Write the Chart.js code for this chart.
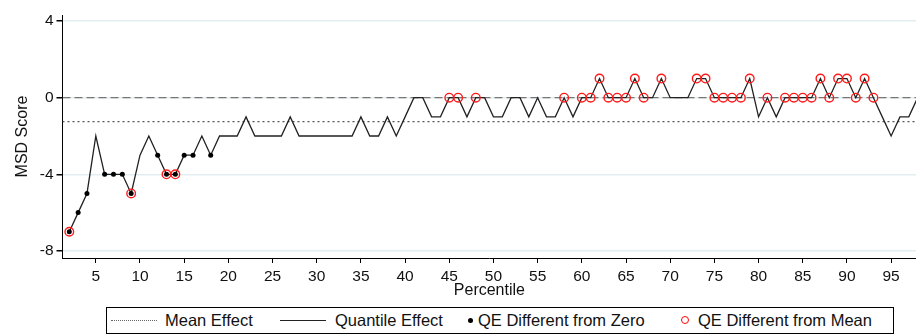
<!DOCTYPE html>
<html>
<head>
<meta charset="utf-8">
<script src="https://cdn.jsdelivr.net/npm/chart.js@4.4.1/dist/chart.umd.min.js"></script>
<style>
    html, body { margin: 0; padding: 0; background: #fff; overflow: hidden; }
    #wrap { position: relative; width: 916px; height: 334px; overflow: hidden; font-family: "Liberation Sans", Arial, sans-serif; }
    /* canvas is a bit wider than the page: chart.js keeps ~6px free on the right, which the reference does not */
    #chartBox { position: absolute; left: 0; top: 0; width: 922px; height: 302px; }
    #legend { position: absolute; left: 106px; top: 307px; width: 786px; height: 25px; border: 1px solid #000; }
    .item { position: absolute; top: 0; height: 25px; line-height: 25px; font-size: 16.5px; color: #111; white-space: nowrap; }
    .sample { position: absolute; }
</style>
</head>
<body>
<div id="wrap">
    <div id="chartBox"><canvas id="qeChart" width="922" height="302"></canvas></div>
    <div id="legend">
        <span class="sample" style="left: 4px; top: 12px; width: 46px; border-top: 1.5px dotted #666;"></span>
        <span class="item" style="left: 58px;">Mean Effect</span>
        <span class="sample" style="left: 173px; top: 12px; width: 46px; border-top: 1.5px solid #222;"></span>
        <span class="item" style="left: 228px;">Quantile Effect</span>
        <span class="sample" style="left: 361px; top: 10px; width: 5px; height: 5px; border-radius: 50%; background: #000;"></span>
        <span class="item" style="left: 371px;">QE Different from Zero</span>
        <span class="sample" style="left: 574px; top: 8px; width: 6px; height: 6px; border-radius: 50%; border: 1.5px solid #f00;"></span>
        <span class="item" style="left: 591px;">QE Different from Mean</span>
    </div>
</div>
<script>
// ==================== Data ====================
const percentiles = [
    2, 3, 4, 5, 6, 7, 8, 9, 10, 11, 12, 13, 14, 15, 16, 17, 18, 19, 20, 21,
    22, 23, 24, 25, 26, 27, 28, 29, 30, 31, 32, 33, 34, 35, 36, 37, 38, 39, 40, 41,
    42, 43, 44, 45, 46, 47, 48, 49, 50, 51, 52, 53, 54, 55, 56, 57, 58, 59, 60, 61,
    62, 63, 64, 65, 66, 67, 68, 69, 70, 71, 72, 73, 74, 75, 76, 77, 78, 79, 80, 81,
    82, 83, 84, 85, 86, 87, 88, 89, 90, 91, 92, 93, 94, 95, 96, 97, 98
];
const quantileEffect = [
    -7, -6, -5, -2, -4, -4, -4, -5, -3, -2, -3, -4, -4, -3, -3, -2, -3, -2, -2, -2,
    -1, -2, -2, -2, -2, -1, -2, -2, -2, -2, -2, -2, -2, -1, -2, -2, -1, -2, -1, 0,
    0, -1, -1, 0, 0, -1, 0, 0, -1, -1, 0, 0, -1, 0, -1, -1, 0, -1, 0, 0,
    1, 0, 0, 0, 1, 0, 0, 1, 0, 0, 0, 1, 1, 0, 0, 0, 0, 1, -1, 0,
    -1, 0, 0, 0, 0, 1, 0, 1, 1, 0, 1, 0, -1, -2, -1, -1, 0
];
// percentiles flagged in the picture
const diffFromZero = [2, 3, 4, 6, 7, 8, 9, 12, 13, 14, 15, 16, 18];
const diffFromMean = [
    2, 9, 13, 14, 45, 46, 48, 58, 60, 61, 62, 63, 64, 65, 66, 67, 69,
    73, 74, 75, 76, 77, 78, 79, 81, 83, 84, 85, 86, 87, 88, 89, 90, 91, 92, 93
];
const meanEffect = -1.25;
const xTicks = [5, 10, 15, 20, 25, 30, 35, 40, 45, 50, 55, 60, 65, 70, 75, 80, 85, 90, 95];
const yTicks = [4, 0, -4, -8];
const xRange = [1.23, 97.85];
const yRange = [-8.37, 4.32];

// ==================== Build ====================
const valueAt = p => quantileEffect[percentiles.indexOf(p)];
const linePoints = percentiles.map((p, i) => ({ x: p, y: quantileEffect[i] }));
const zeroPoints = diffFromZero.map(p => ({ x: p, y: valueAt(p) }));
const meanPoints = diffFromMean.map(p => ({ x: p, y: valueAt(p) }));

const tickFont = { family: '"Liberation Sans", Arial, sans-serif', size: 15.5 };
const titleFont = { family: '"Liberation Sans", Arial, sans-serif', size: 16 };

new Chart(document.getElementById('qeChart'), {
    type: 'line',
    data: {
        datasets: [
            {
                label: 'QE Different from Mean',
                data: meanPoints,
                showLine: false,
                pointRadius: 4.3,
                pointBorderWidth: 1.4,
                pointBorderColor: '#ff1a1a',
                pointBackgroundColor: 'rgba(0,0,0,0)',
                order: 0
            },
            {
                label: 'QE Different from Zero',
                data: zeroPoints,
                showLine: false,
                pointRadius: 2.5,
                pointBorderWidth: 0,
                pointBackgroundColor: '#000',
                order: 1
            },
            {
                label: 'Quantile Effect',
                data: linePoints,
                borderColor: '#222',
                borderWidth: 1.3,
                pointRadius: 0,
                tension: 0,
                order: 2
            },
            {
                label: 'Mean Effect',
                data: [{ x: xRange[0], y: meanEffect }, { x: xRange[1], y: meanEffect }],
                borderColor: '#555',
                borderWidth: 1.2,
                borderDash: [2, 3],
                pointRadius: 0,
                order: 3
            },
            {
                label: 'Zero',
                data: [{ x: xRange[0], y: 0 }, { x: xRange[1], y: 0 }],
                borderColor: '#777',
                borderWidth: 1.2,
                borderDash: [8, 4],
                pointRadius: 0,
                order: 4
            }
        ]
    },
    options: {
        responsive: false,
        animation: false,
        layout: { padding: { left: 0, right: 0, top: 15, bottom: 0 } },
        plugins: { legend: { display: false }, tooltip: { enabled: false } },
        scales: {
            x: {
                type: 'linear',
                min: xRange[0],
                max: xRange[1],
                afterBuildTicks: scale => { scale.ticks = xTicks.map(v => ({ value: v })); },
                afterFit: scale => { scale.height = 44; },
                border: { display: true, color: '#000', width: 1 },
                grid: { drawOnChartArea: false, drawTicks: true, tickLength: 5, tickColor: '#000' },
                ticks: { font: tickFont, color: '#111', padding: 4, maxRotation: 0, autoSkip: false },
                title: { display: true, text: 'Percentile', font: titleFont, color: '#111', padding: { top: 0, bottom: 2 } }
            },
            y: {
                min: yRange[0],
                max: yRange[1],
                afterBuildTicks: scale => { scale.ticks = yTicks.map(v => ({ value: v })); },
                afterFit: scale => { scale.width = 62.5; },
                border: { display: true, color: '#000', width: 1 },
                grid: { color: '#e4eef1', lineWidth: 1.5, drawTicks: true, tickLength: 6, tickColor: '#000' },
                ticks: { font: tickFont, color: '#111', padding: 3 },
                title: { display: true, text: 'MSD Score', font: titleFont, color: '#111', padding: { top: 13, bottom: 0 } }
            }
        }
    }
});
</script>
</body>
</html>
